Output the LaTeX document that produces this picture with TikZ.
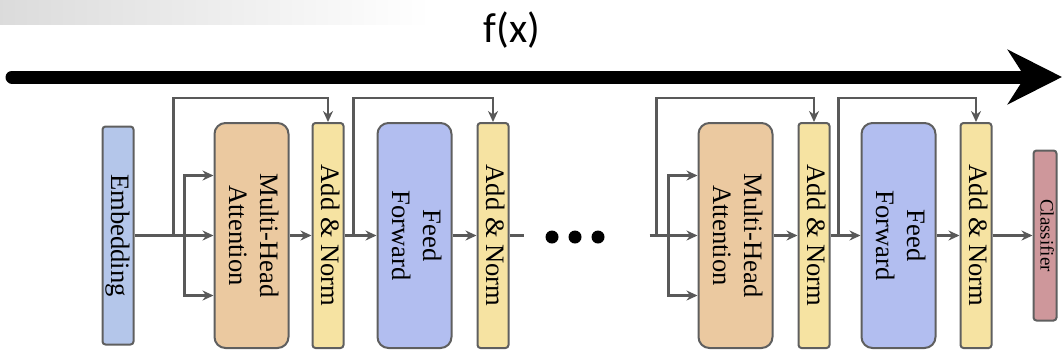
\documentclass[tikz,border=0pt]{standalone}
\usepackage{fontspec}
\setmainfont{Liberation Serif}
\newfontfamily\slidefont{Carlito}
\usepackage{graphicx}
\usetikzlibrary{arrows.meta,positioning}
\definecolor{embblue}{HTML}{B4C6EA}
\definecolor{attnsand}{HTML}{EBC9A0}
\definecolor{normyellow}{HTML}{F6E3A2}
\definecolor{ffblue}{HTML}{B2BEF0}
\definecolor{clsrose}{HTML}{CE979B}
\definecolor{boxgray}{HTML}{5F5F5F}
\definecolor{linegray}{HTML}{595959}
\newcommand{\vlabel}[1]{\rotatebox{-90}{\begin{tabular}{@{}c@{}}#1\end{tabular}}}

\begin{document}
\begin{tikzpicture}[
  x=0.5pt, y=-0.5pt,
  box/.style={rectangle, draw=boxgray, line width=1pt, inner sep=0pt, minimum height=112.5pt, font=\fontsize{13.3}{15.5}\selectfont},
  slimbox/.style={box, rounded corners=1.5pt, minimum width=15pt},
  widebox/.style={box, rounded corners=5.5pt, minimum width=37pt},
  conn/.style={-{Stealth[length=5.5pt,width=5pt]}, line width=1.1pt, draw=linegray},
  link/.style={line width=1.1pt, draw=linegray}
]
\useasboundingbox (0,0) rectangle (1064,361);
\shade[left color=gray!28, right color=white] (0,0) rectangle (430,24);

% f(x) arrow over the whole stack
\node[font=\slidefont\fontsize{21}{24}\selectfont] (fx) at (512,30) {f(x)};
\coordinate (fxstart) at (12,77);
\coordinate (fxend) at (1062,77);
\draw[line width=6.5pt, line cap=round, -{Stealth[length=27pt,width=27pt,inset=8.5pt]}] (fxstart) -- (fxend);

% first encoder layer
\node[slimbox, minimum height=109pt, fill=embblue] (emb) at (118,235.5) {\vlabel{Embedding}};
\node[widebox, fill=attnsand, right=39.5pt of emb] (mha1) {\vlabel{Multi-Head\\Attention}};
\node[slimbox, fill=normyellow, right=11pt of mha1] (an1) {\vlabel{Add \& Norm}};
\node[widebox, fill=ffblue, right=16pt of an1] (ff1) {\vlabel{Feed\\Forward}};
\node[slimbox, fill=normyellow, right=12pt of ff1] (an2) {\vlabel{Add \& Norm}};

% last encoder layer
\node[widebox, fill=attnsand, right=94pt of an2] (mha2) {\vlabel{Multi-Head\\Attention}};
\node[slimbox, fill=normyellow, right=12pt of mha2] (an3) {\vlabel{Add \& Norm}};
\node[widebox, fill=ffblue, right=15pt of an3] (ff2) {\vlabel{Feed\\Forward}};
\node[slimbox, fill=normyellow, right=11.5pt of ff2] (an4) {\vlabel{Add \& Norm}};
\node[slimbox, minimum width=11.5pt, minimum height=85pt, fill=clsrose, font=\fontsize{9.5}{11}\selectfont, right=20pt of an4] (cls) {\vlabel{Classifier}};

\coordinate[left=20pt of mha1] (skip1);
\coordinate[left=14.5pt of mha1] (fork1);
\coordinate[right=4.5pt of an1] (skip2);
\coordinate[right=7pt of an2] (out1);
\coordinate[left=24pt of mha2] (in2);
\coordinate[left=20.5pt of mha2] (skip3);
\coordinate[left=14.5pt of mha2] (fork2);
\coordinate[right=4pt of an3] (skip4);

\draw[conn] (emb) -- (mha1);
\draw[conn] (fork1) |- ([yshift=30pt]mha1.west);
\draw[conn] (fork1) |- ([yshift=-30pt]mha1.west);
\draw[conn] (skip1) -- ++(0,-137.5) -| (an1.north);
\draw[conn] (mha1) -- (an1);
\draw[conn] (an1) -- (ff1);
\draw[conn] (skip2) -- ++(0,-137.5) -| (an2.north);
\draw[conn] (ff1) -- (an2);
\draw[link] (an2) -- (out1);

\fill (552,237) circle (6.5);
\fill (575,237) circle (6.5);
\fill (598,237) circle (6.5);

\draw[conn] (in2) -- (mha2);
\draw[conn] (fork2) |- ([yshift=30pt]mha2.west);
\draw[conn] (fork2) |- ([yshift=-30pt]mha2.west);
\draw[conn] (skip3) -- ++(0,-137.5) -| (an3.north);
\draw[conn] (mha2) -- (an3);
\draw[conn] (an3) -- (ff2);
\draw[conn] (skip4) -- ++(0,-137.5) -| (an4.north);
\draw[conn] (ff2) -- (an4);
\draw[conn] (an4) -- (cls);
\end{tikzpicture}
\end{document}
